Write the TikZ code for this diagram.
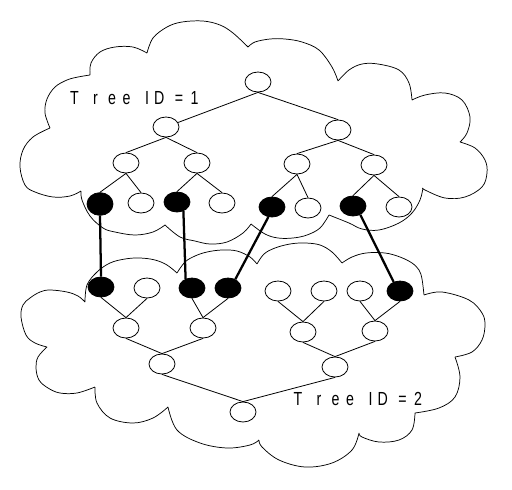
\documentclass[tikz,border=0pt]{standalone}
\usepackage{fontspec}
\usetikzlibrary{shapes.geometric}
\newfontfamily\treefont[FakeStretch=0.75]{Liberation Sans}
\newcommand\gc[1]{\makebox[0pt]{#1}}
\begin{document}
\begin{tikzpicture}[x=0.75pt,y=-0.75pt,
  tn/.style={ellipse,draw,line width=0.6pt,fill=white,inner sep=0pt,minimum width=19.5pt,minimum height=15pt},
  bn/.style={tn,fill=black},
  edge/.style={line width=0.6pt},
  link/.style={line width=1.7pt},
  cl/.style={line width=0.55pt},
  lbl/.style={font=\treefont\fontsize{14.2}{17}\selectfont,inner sep=0pt}]
\useasboundingbox (0,0) rectangle (512,490);
% ---------- top cloud ----------
\draw[cl]
 plot[smooth,tension=.6] coordinates {(81,191) (70,196) (53,197) (35,192) (25,185) (20,167) (23,150) (33,137) (50,128)}
 plot[smooth,tension=.6] coordinates {(50,128) (45,113) (47,99) (55,87) (67,80) (78,77) (90,75)}
 plot[smooth,tension=.6] coordinates {(90,75) (91,63) (100,52) (115,47) (133,47) (147,53)}
 plot[smooth,tension=.6] coordinates {(147,53) (153,38) (167,27) (182,22) (203,21) (220,25) (233,33) (248,47)}
 plot[smooth,tension=.6] coordinates {(248,47) (255,42) (270,39) (285,39) (302,42) (319,50) (332,67) (338,81)}
 plot[smooth,tension=.6] coordinates {(338,81) (349,70) (362,64) (378,64) (399,70) (409,83) (412,100)}
 plot[smooth,tension=.6] coordinates {(412,100) (425,95) (445,93) (462,100) (470,117) (467,133) (460,142)}
 plot[smooth,tension=.6] coordinates {(460,142) (475,148) (485,160) (487,173) (482,187) (465,197) (445,198) (425,190) (423,188)}
 plot[smooth,tension=.6] coordinates {(423,188) (420,200) (412,213) (399,223) (379,230) (362,229) (349,223) (329,215)}
 plot[smooth,tension=.6] coordinates {(329,215) (320,228) (307,235) (293,238) (278,238) (265,234) (251,224)}
 plot[smooth,tension=.6] coordinates {(251,224) (243,233) (227,242) (210,244) (195,241) (180,237) (165,225)}
 plot[smooth,tension=.6] coordinates {(165,225) (153,232) (135,235) (115,232) (103,228) (90,216) (82,200) (81,191)};
% ---------- bottom cloud ----------
\draw[cl]
 plot[smooth,tension=.6] coordinates {(85,302) (87,285) (97,272) (110,263) (125,259) (140,258) (155,260) (167,265) (177,273)}
 plot[smooth,tension=.6] coordinates {(177,273) (185,262) (195,256) (207,252) (222,250) (237,251) (250,257) (257,264)}
 plot[smooth,tension=.6] coordinates {(257,264) (264,254) (275,248) (290,244) (305,243) (320,245) (332,252) (342,263)}
 plot[smooth,tension=.6] coordinates {(342,263) (352,257) (366,253) (385,253) (400,257) (412,263) (419,270) (422,279) (424,295)}
 plot[smooth,tension=.6] coordinates {(424,295) (442,292) (469,300) (482,313) (485,325) (482,340) (472,352) (455,357)}
 plot[smooth,tension=.6] coordinates {(455,357) (460,377) (455,397) (439,408) (415,413)}
 plot[smooth,tension=.6] coordinates {(415,413) (412,430) (399,440) (379,442) (362,437) (359,433)}
 plot[smooth,tension=.6] coordinates {(359,433) (352,450) (332,463) (305,467) (279,460) (262,447) (259,440)}
 plot[smooth,tension=.6] coordinates {(259,440) (250,445) (227,448) (200,443) (177,430) (168,407)}
 plot[smooth,tension=.6] coordinates {(168,407) (153,418) (133,423) (110,418) (97,403) (95,387)}
 plot[smooth,tension=.6] coordinates {(95,387) (77,393) (60,393) (48,388) (39,380) (36,368) (38,357) (47,347)}
 plot[smooth,tension=.6] coordinates {(47,347) (35,343) (26,335) (21,317) (23,305) (30,298) (40,292) (50,290) (67,292) (78,296) (85,302)};
% ---------- top tree ----------
\node[tn] (r1) at (258,82) {};
\node[tn] (a1) at (166,127) {};
\node[tn] (a2) at (338,130) {};
\node[tn] (b1) at (126,163) {};
\node[tn] (b2) at (197,163) {};
\node[tn] (b3) at (297,164) {};
\node[tn] (b4) at (374,165) {};
\node[bn,minimum height=17pt] (c1) at (100,204) {};
\node[tn] (c2) at (141,203) {};
\node[bn] (c3) at (177,202) {};
\node[tn] (c4) at (222,203) {};
\node[bn] (c5) at (272,207) {};
\node[tn] (c6) at (308,208) {};
\node[bn] (c7) at (353,206) {};
\node[tn] (c8) at (399,207) {};
\draw[edge] (r1.south) -- (a1);
\draw[edge] (r1.south) -- (a2.north);
\draw[edge] (a1.south) -- (b1.north);
\draw[edge] (a1.south) -- (b2.north);
\draw[edge] (a2.south) -- (b3.north);
\draw[edge] (a2.south) -- (b4.north);
\draw[edge] (b1.south) -- (c1.north);
\draw[edge] (b1.south) -- (c2.north);
\draw[edge] (b2.south) -- (c3.north);
\draw[edge] (b2.south) -- (c4.north);
\draw[edge] (b3.south) -- (c5.north);
\draw[edge] (b3.south) -- (c6.north);
\draw[edge] (b4.south) -- (c7.north);
\draw[edge] (b4.south) -- (c8.north);
% ---------- bottom tree ----------
\node[bn] (d1) at (101,287) {};
\node[tn] (d2) at (147,288) {};
\node[bn] (d3) at (192,288) {};
\node[bn] (d4) at (228,288) {};
\node[tn] (d5) at (278,291) {};
\node[tn] (d6) at (324,291) {};
\node[tn] (d7) at (360,291) {};
\node[bn] (d8) at (400,291) {};
\node[tn] (e1) at (126,328) {};
\node[tn] (e2) at (203,328) {};
\node[tn] (e3) at (303,332) {};
\node[tn] (e4) at (375,331) {};
\node[tn] (f1) at (162,364) {};
\node[tn] (f2) at (335,367) {};
\node[tn] (g) at (243,412) {};
\draw[edge] (d1.south) -- (e1.north);
\draw[edge] (d2.south) -- (e1.north);
\draw[edge] (d3.south) -- (e2.north);
\draw[edge] (d4.south) -- (e2.north);
\draw[edge] (d5.south) -- (e3.north);
\draw[edge] (d6.south) -- (e3.north);
\draw[edge] (d7.south) -- (e4.north);
\draw[edge] (d8.south) -- (e4.north);
\draw[edge] (e1.south) -- (f1.north);
\draw[edge] (e2.south) -- (f1.north);
\draw[edge] (e3.south) -- (f2.north);
\draw[edge] (e4.south) -- (f2.north);
\draw[edge] (f1.south) -- (g.north);
\draw[edge] (f2.south) -- (g.north);
% ---------- links between trees ----------
\draw[link] (c1.south) -- (d1.north);
\draw[link] (c3.-55) -- (d3.125);
\draw[link] (c5.-110) -- (d4.50);
\draw[link] (c7.-50) -- (d8.125);
% ---------- labels ----------
\node[lbl] (t1) at (134.5,98) {\spaceskip=2pt\relax\gc{T}\hspace*{15.75pt}\gc{r}\hspace*{12.4pt}\gc{e}\hspace*{10.9pt}\gc{e}\hspace*{13.4pt} \gc{I}\hspace*{9.2pt}\gc{D}\hspace*{12.8pt} \gc{=}\hspace*{9.6pt} \gc{1}};
\node[lbl] (t2) at (358,398.5) {\spaceskip=2pt\relax\gc{T}\hspace*{15.75pt}\gc{r}\hspace*{12.4pt}\gc{e}\hspace*{10.9pt}\gc{e}\hspace*{13.4pt} \gc{I}\hspace*{9.2pt}\gc{D}\hspace*{12.8pt} \gc{=}\hspace*{9.6pt} \gc{2}};
\end{tikzpicture}
\end{document}
